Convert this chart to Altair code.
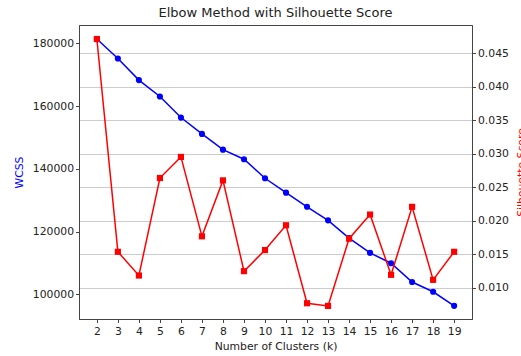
import altair as alt
import pandas as pd

# Cluster counts evaluated
k_values = list(range(2, 20))

# Within-cluster sum of squares for each k
wcss = [181400, 175200, 168300, 163070, 156360, 151150, 146130, 143070, 137000,
        132400, 127900, 123570, 117900, 113200, 109900, 103900, 100800, 96300]

# Mean silhouette score for each k
silhouette = [0.0471, 0.01534, 0.0118, 0.02635, 0.0295, 0.01765, 0.0260, 0.01245,
              0.0156, 0.0193, 0.00766, 0.00726, 0.0173, 0.0209, 0.0119, 0.02205,
              0.01115, 0.01534]

wcss_ticks = [100000, 120000, 140000, 160000, 180000]
sil_ticks = [0.010, 0.015, 0.020, 0.025, 0.030, 0.035, 0.040, 0.045]

df = pd.DataFrame({"k": k_values, "wcss": wcss, "silhouette": silhouette})

FONT = "DejaVu Sans"

x_enc = alt.X(
    "k:Q",
    scale=alt.Scale(domain=[1.15, 19.85], nice=False, zero=False),
    axis=alt.Axis(values=k_values, title="Number of Clusters (k)", grid=False,
                  format="d", labelPadding=3, titlePadding=4,
                  labelOverlap=False, labelFlush=False),
)

wcss_y = alt.Y(
    "wcss:Q",
    scale=alt.Scale(domain=[92110, 185880], nice=False, zero=False),
    axis=alt.Axis(values=wcss_ticks, title="WCSS", titleColor="blue",
                  grid=False, format="d", orient="left",
                  titleX=-66, titleBaseline="top", titleAngle=270),
)

sil_y = alt.Y(
    "silhouette:Q",
    scale=alt.Scale(domain=[0.00531, 0.04919], nice=False, zero=False),
    axis=alt.Axis(values=sil_ticks, title="Silhouette Score", titleColor="red",
                  grid=True, format=".3f", orient="right",
                  titleX=43, titleBaseline="top", titleAngle=270),
)

base = alt.Chart(df)

wcss_line = base.mark_line(color="blue", strokeWidth=1.5).encode(x=x_enc, y=wcss_y)
wcss_pts = base.mark_point(color="blue", filled=True, opacity=1, shape="circle",
                           size=38).encode(x=x_enc, y=wcss_y)

sil_line = base.mark_line(color="red", strokeWidth=1.5).encode(x=x_enc, y=sil_y)
sil_pts = base.mark_point(color="red", filled=True, opacity=1, shape="square",
                          size=38).encode(x=x_enc, y=sil_y)

left = alt.layer(wcss_line, wcss_pts)
right = alt.layer(sil_line, sil_pts)

chart = (
    alt.layer(left, right)
    .resolve_scale(y="independent")
    .properties(
        width=393,
        height=294,
        title=alt.TitleParams("Elbow Method with Silhouette Score", fontSize=13,
                              font=FONT, fontWeight="normal", color="#222",
                              offset=5),
        autosize=alt.AutoSizeParams(type="none"),
        padding={"left": 79, "top": 25, "right": 49, "bottom": 37},
    )
    .configure_view(stroke="#444", strokeWidth=1)
    .configure_axis(
        labelFont=FONT, titleFont=FONT, labelFontSize=10.8, titleFontSize=10.8,
        labelColor="#222", titleColor="#222", titleFontWeight="normal",
        domainColor="#444", tickColor="#444", tickSize=3.5, tickWidth=1,
        gridColor="#cccccc", gridWidth=1, domainWidth=1,
    )
    .configure_axisX(labelOverlap=False)
)

chart.save("out.html", embed_options={"renderer": "svg", "actions": False})
